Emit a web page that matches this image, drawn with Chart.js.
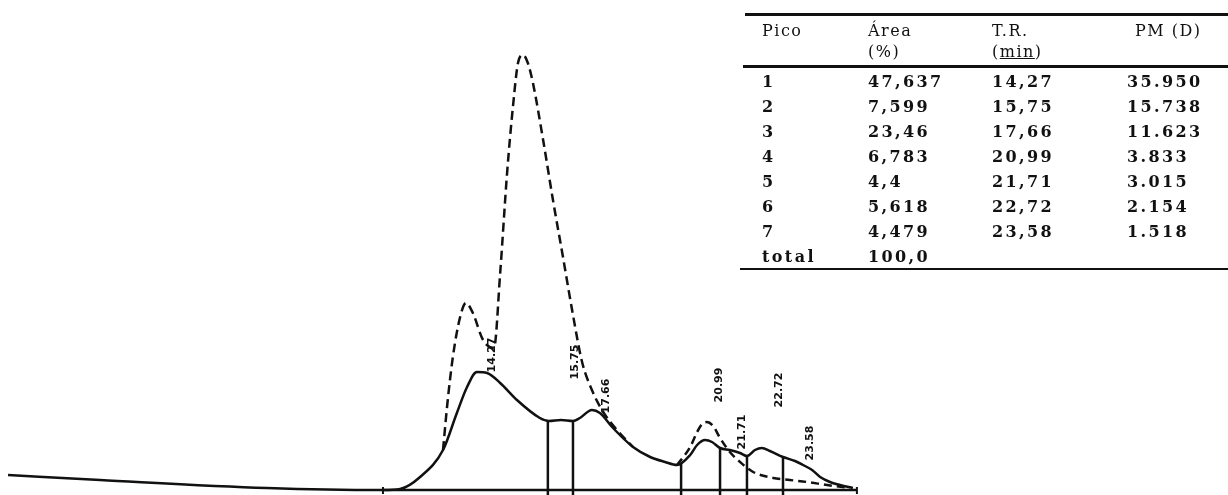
<!DOCTYPE html>
<html><head><meta charset="utf-8">
<script src="https://cdn.jsdelivr.net/npm/chart.js@4"></script>
<style>
html,body{margin:0;padding:0;background:#fff;}
#wrap{position:relative;width:1228px;height:495px;overflow:hidden;background:#fff;}
canvas{position:absolute;left:0;top:0;}
.cell{position:absolute;white-space:nowrap;font-family:"DejaVu Serif",serif;font-size:16px;font-weight:bold;letter-spacing:2.4px;line-height:1;color:#111;transform:translateY(-50%);}
.hdr{font-weight:normal;letter-spacing:1.5px;}
.rule{position:absolute;background:#111;}
</style></head><body>
<div id="wrap"><canvas id="c" width="1228" height="495"></canvas><div id="table"></div></div>
<script>
// ---- table data ----
const peakNumbers = ["1","2","3","4","5","6","7"];
const areaPct     = ["47,637","7,599","23,46","6,783","4,4","5,618","4,479"];
const retTimes    = ["14,27","15,75","17,66","20,99","21,71","22,72","23,58"];
const molWeights  = ["35.950","15.738","11.623","3.833","3.015","2.154","1.518"];
const totalLabel  = "total";
const totalArea   = "100,0";
const headerTop   = ["Pico","Área","T.R.","PM (D)"];
const headerSub   = ["","(%)","(min)",""];

// ---- chromatogram (time in min, signal in arbitrary units) ----
const solidTime   = [1.43,3.96,8.54,11.73,12.20,12.75,13.38,13.76,14.04,14.31,14.59,14.95,15.41,16.04,16.29,16.62,16.95,17.14,17.47,17.69,18.05,18.60,19.07,19.48,19.81,20.17,20.36,20.58,20.77,20.99,21.26,21.54,21.73,21.95,22.14,22.36,22.72,23.05,23.27,23.52,23.74,24.01,24.29,24.64];
const solidSignal = [15,10,2,0,1,13,40,77,103,118,117,107,90,72,69,70,69,72,80,77,62,43,33,28,25,35,45,50,48,42,40,37,34,40,42,39,33,29,25,20,13,8,5,2];

const dashTime    = [13.38,13.49,13.65,13.85,14.01,14.20,14.48,14.78,14.95,15.14,15.30,15.44,15.58,15.71,15.85,16.13,16.40,16.68,16.95,17.20,17.47,17.78,18.16,18.60];
const dashSignal  = [40,83,133,173,187,177,150,142,217,317,383,427,435,427,407,350,290,232,175,128,100,78,60,43];

const dash2Time   = [19.81,20.17,20.36,20.50,20.63,20.80,20.99,21.26,21.54,21.90,22.45,22.91,23.38,23.93,24.56];
const dash2Signal = [25,43,58,66,68,64,52,38,28,18,12,10,8,5,2];

const baselineTime = [11.73,24.75];
const cutTimes    = [16.26,16.95,19.92,20.99,21.73,22.72];
const cutTops     = [69,69,26,42,34,33];
const tickTimes   = [11.73,24.75];

const labelTime   = [14.72,17.00,17.86,20.96,21.59,22.61,23.46];
const labelSignal = [135,128,94,105,58,100,47];

// ---- build table ----
const tbl = document.getElementById('table');
const colX = [762,868,992,1127];
function cell(txt,x,y,cls){const d=document.createElement('div');d.className='cell'+(cls?' '+cls:'');d.innerHTML=txt;d.style.left=x+'px';d.style.top=y+'px';tbl.appendChild(d);}
function rule(x,y,w,h){const d=document.createElement('div');d.className='rule';d.style.left=x+'px';d.style.top=y+'px';d.style.width=w+'px';d.style.height=h+'px';tbl.appendChild(d);}
rule(745,13,483,3);
headerTop.forEach((h,i)=>cell(h,colX[i]+(i===3?8:0),31,'hdr'));
headerSub.forEach((h,i)=>{ if(h) cell(i===2?'(<u>min</u>)':h,colX[i],52,'hdr'); });
rule(743,65,485,3);
const rowY0=82, pitch=25;
peakNumbers.forEach((p,i)=>{
  const y=rowY0+i*pitch;
  cell(p,colX[0],y); cell(areaPct[i],colX[1],y); cell(retTimes[i],colX[2],y); cell(molWeights[i],colX[3],y);
});
cell(totalLabel,colX[0],rowY0+7*pitch); cell(totalArea,colX[1],rowY0+7*pitch);
rule(740,rowY0+7*pitch+11,488,2);

// ---- chart ----
const pts=(xs,ys)=>xs.map((x,i)=>({x:x,y:ys[i]}));
const black='#111';
const datasets=[
  {data:pts(solidTime,solidSignal),borderColor:black,borderWidth:2.5,cubicInterpolationMode:'monotone'},
  {data:pts(dashTime,dashSignal),borderColor:black,borderWidth:2.5,borderDash:[9,5],cubicInterpolationMode:'monotone'},
  {data:pts(dash2Time,dash2Signal),borderColor:black,borderWidth:2.5,borderDash:[8,5],cubicInterpolationMode:'monotone'},
  {data:pts(baselineTime,[0,0]),borderColor:black,borderWidth:2.5,tension:0}
];
cutTimes.forEach((t,i)=>datasets.push({data:[{x:t,y:-5},{x:t,y:cutTops[i]}],borderColor:black,borderWidth:2.5,tension:0}));
tickTimes.forEach(t=>datasets.push({data:[{x:t,y:-4},{x:t,y:3}],borderColor:black,borderWidth:2,tension:0}));
datasets.forEach(d=>{d.pointRadius=0;d.fill=false;});

const labelPlugin={id:'peakLabels',afterDatasetsDraw(chart){
  const ctx=chart.ctx,xs=chart.scales.x,ys=chart.scales.y;
  ctx.save();ctx.fillStyle=black;ctx.font='bold 11px "DejaVu Sans"';ctx.textAlign='center';ctx.textBaseline='middle';
  retTimes.forEach((rt,i)=>{
    const px=xs.getPixelForValue(labelTime[i]),py=ys.getPixelForValue(labelSignal[i]);
    ctx.save();ctx.translate(px,py);ctx.rotate(-Math.PI/2);ctx.fillText(rt.replace(',','.'),0,0);ctx.restore();
  });
  ctx.restore();
}};

new Chart(document.getElementById('c'),{
  type:'line',
  data:{datasets:datasets},
  options:{responsive:false,animation:false,devicePixelRatio:1,
    layout:{padding:0},
    plugins:{legend:{display:false},tooltip:{enabled:false}},
    scales:{x:{type:'linear',display:false,min:1.209,max:34.945},y:{display:false,min:-5,max:490}}
  },
  plugins:[labelPlugin]
});
</script>
</body></html>
